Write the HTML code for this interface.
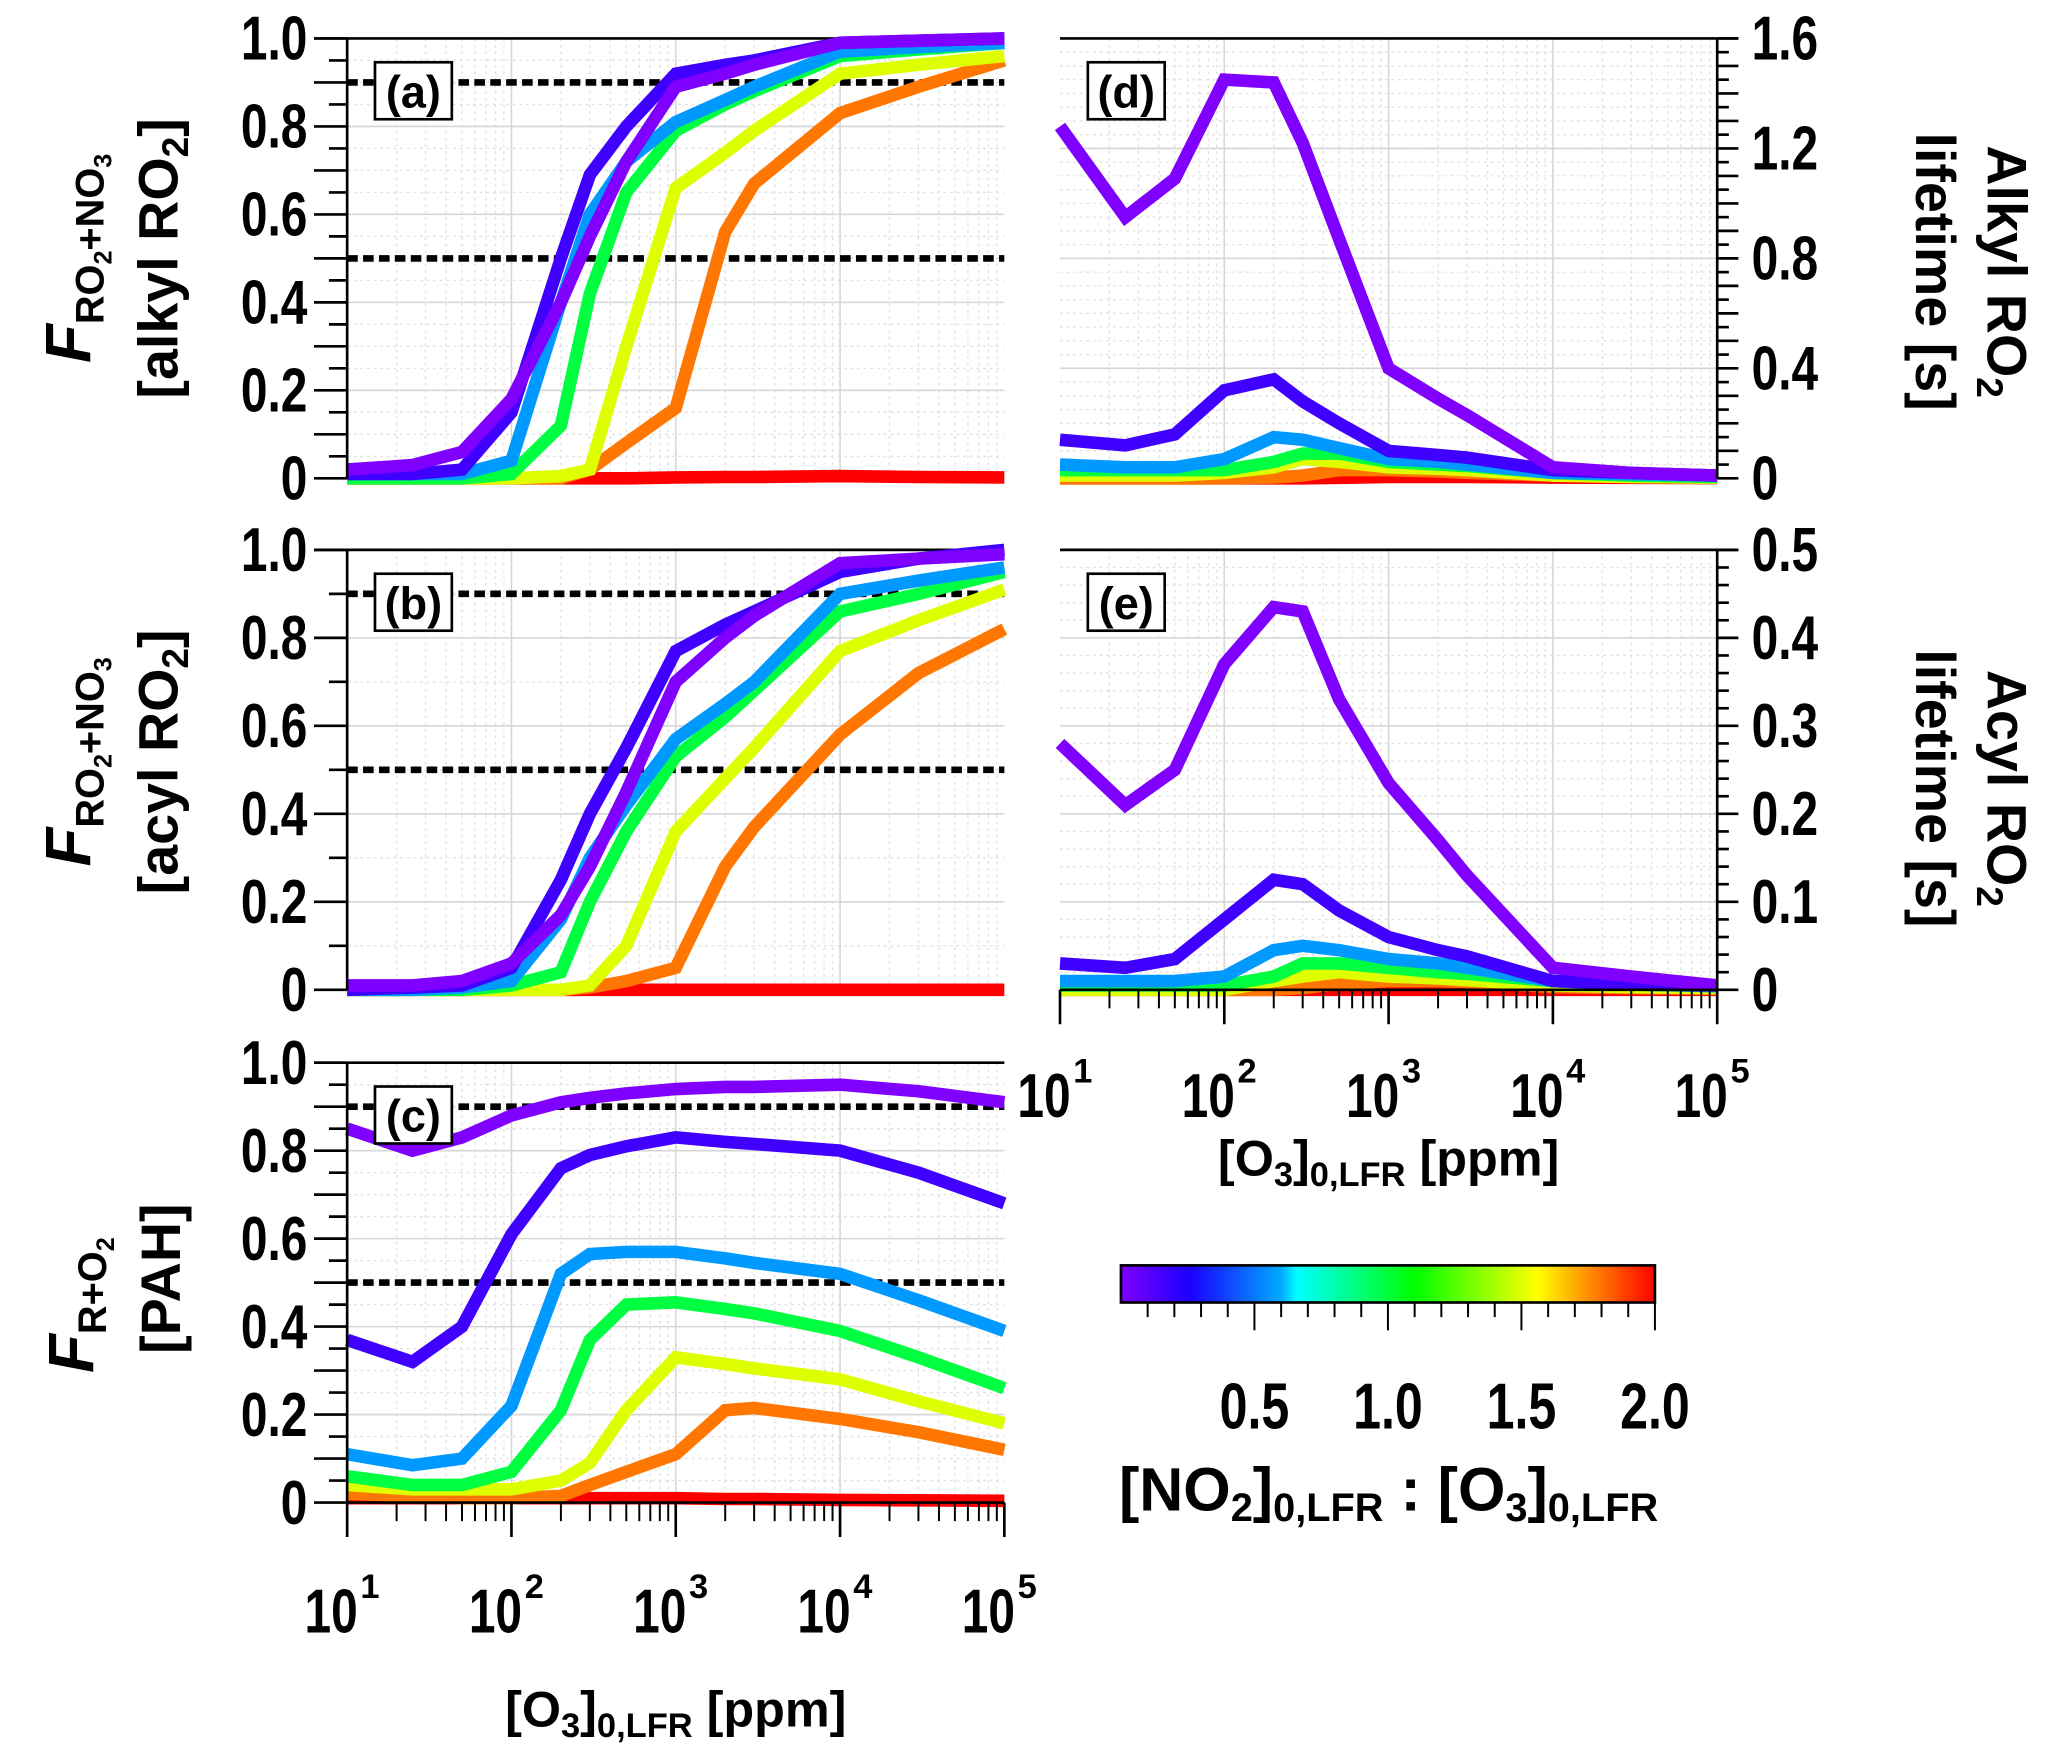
<!DOCTYPE html>
<html><head><meta charset="utf-8"><style>
html,body{margin:0;padding:0;background:#fff;}
svg{display:block;}
text{font-family:"Liberation Sans Narrow","Liberation Sans",sans-serif;font-weight:bold;fill:#000;}
</style></head><body>
<svg id="fig" xmlns="http://www.w3.org/2000/svg" width="2067" height="1753" viewBox="0 0 1560 1323" preserveAspectRatio="none">
<defs>
<linearGradient id="cbg" x1="0" x2="1" y1="0" y2="0">
<stop offset="0" stop-color="#8000ff"/><stop offset="0.13" stop-color="#1a00ff"/><stop offset="0.3" stop-color="#00aaff"/><stop offset="0.33" stop-color="#00ffff"/><stop offset="0.55" stop-color="#00ff00"/><stop offset="0.78" stop-color="#ffff00"/><stop offset="0.88" stop-color="#ff8800"/><stop offset="1" stop-color="#ff0000"/>
</linearGradient>
</defs>
<g id="root"></g>
</svg>
<script>
const xs=[10,25,50,100,200,300,500,1000,2000,3000,10000,30000,100000];
const colors=["#8000ff","#4000ff","#0099ff","#00ff40","#ddff00","#ff7700","#ff0000"];
const seriesNames=["violet","blue","sky","green","yellow","orange","red"];
const aVals=[
[0.02,0.03,0.06,0.18,0.40,0.55,0.72,0.89,0.92,0.94,0.99,0.995,1.0],
[0.01,0.01,0.02,0.15,0.50,0.69,0.80,0.92,0.94,0.95,0.99,0.995,1.0],
[0.01,0.01,0.01,0.04,0.40,0.60,0.72,0.81,0.86,0.89,0.97,0.98,0.99],
[0,0,0,0.01,0.12,0.42,0.65,0.79,0.85,0.88,0.96,0.975,0.99],
[0,0,0,0,0.005,0.02,0.30,0.66,0.74,0.79,0.92,0.94,0.96],
[0,0,0,0,0,0.02,0.08,0.16,0.56,0.67,0.83,0.89,0.95],
[0,0,0,0,0,0,0,0.002,0.003,0.003,0.005,0.003,0.002]];
const bVals=[
[0.01,0.01,0.02,0.06,0.17,0.28,0.45,0.70,0.80,0.85,0.97,0.98,0.99],
[0,0.005,0.01,0.05,0.25,0.40,0.55,0.77,0.83,0.86,0.95,0.98,1.0],
[0,0,0.005,0.02,0.16,0.30,0.42,0.57,0.65,0.70,0.90,0.93,0.96],
[0,0,0,0.01,0.04,0.20,0.36,0.53,0.62,0.68,0.86,0.90,0.95],
[0,0,0,0,0,0.01,0.10,0.36,0.48,0.55,0.77,0.84,0.91],
[0,0,0,0,0,0.005,0.02,0.05,0.28,0.37,0.58,0.72,0.82],
[0,0,0,0,0,0,0,0,0,0,0,0,0]];
const cVals=[
[0.85,0.80,0.83,0.88,0.91,0.92,0.93,0.94,0.945,0.945,0.95,0.935,0.91],
[0.37,0.32,0.40,0.61,0.76,0.79,0.81,0.83,0.82,0.815,0.80,0.75,0.68],
[0.11,0.085,0.10,0.22,0.52,0.565,0.57,0.57,0.555,0.545,0.52,0.46,0.39],
[0.06,0.04,0.04,0.07,0.21,0.37,0.45,0.455,0.44,0.43,0.39,0.33,0.26],
[0.04,0.03,0.03,0.03,0.05,0.09,0.21,0.33,0.315,0.305,0.28,0.23,0.18],
[0.02,0.015,0.01,0.01,0.015,0.04,0.07,0.11,0.21,0.215,0.19,0.16,0.12],
[0.01,0.01,0.01,0.01,0.01,0.01,0.01,0.01,0.008,0.008,0.006,0.005,0.004]];
const dVals=[
[1.28,0.95,1.09,1.45,1.44,1.22,0.87,0.40,0.29,0.23,0.04,0.02,0.01],
[0.14,0.12,0.16,0.32,0.36,0.28,0.20,0.10,0.085,0.075,0.03,0.02,0.01],
[0.05,0.04,0.04,0.07,0.15,0.14,0.11,0.07,0.06,0.05,0.02,0.015,0.01],
[0.03,0.03,0.03,0.03,0.06,0.09,0.09,0.06,0.05,0.045,0.02,0.01,0.005],
[0.01,0.01,0.01,0.02,0.04,0.07,0.06,0.04,0.035,0.03,0.01,0.005,0.003],
[0,0,0,0,0.003,0.01,0.03,0.03,0.025,0.02,0.01,0.005,0.002],
[0,0,0,0,0,0,0.002,0.005,0.005,0.005,0.003,0.002,0.001]];
const eVals=[
[0.28,0.21,0.25,0.37,0.435,0.43,0.33,0.235,0.17,0.13,0.025,0.015,0.005],
[0.03,0.025,0.035,0.08,0.125,0.12,0.09,0.06,0.045,0.038,0.01,0.007,0.005],
[0.01,0.01,0.01,0.015,0.045,0.05,0.045,0.035,0.03,0.025,0.01,0.006,0.004],
[0.005,0.005,0.005,0.005,0.015,0.03,0.03,0.025,0.02,0.018,0.01,0.006,0.004],
[0,0,0,0,0.01,0.015,0.02,0.015,0.013,0.011,0.005,0.003,0.002],
[0,0,0,0,0,0.002,0.007,0.01,0.01,0.009,0.003,0.002,0.001],
[0,0,0,0,0,0,0,0,0,0,0,0,0]];
const leftTicks=["0","0.2","0.4","0.6","0.8","1.0"];
const dTicks=["0","0.4","0.8","1.2","1.6"];
const eTicks=["0","0.1","0.2","0.3","0.4","0.5"];
const cbTicks=["0.5","1.0","1.5","2.0"];
const xExp=["1","2","3","4","5"];

const NS="http://www.w3.org/2000/svg";
const root=document.getElementById("root");
function mk(tag,attrs,parent){const e=document.createElementNS(NS,tag);for(const k in attrs)e.setAttribute(k,attrs[k]);(parent||root).appendChild(e);return e;}
function ctext(x,y,str,size,anchor,parent){
  return mk("text",{x:0,y:0,"font-size":size,"text-anchor":anchor,transform:`translate(${x},${y}) scale(0.86,1.12)`},parent);
}

function panel(p){
  const g=mk("g",{});
  
  
  const X=v=>p.x0+(Math.log10(v)-1)/4*(p.x1-p.x0);
  const Y=v=>p.y0-(v/p.ymax)*(p.y0-p.y1);
  for(let d=1;d<5;d++)for(let m=2;m<10;m++){const x=X(m*Math.pow(10,d));mk("line",{x1:x,x2:x,y1:p.y1,y2:p.y0,stroke:"#e0e0e0","stroke-width":1,"stroke-dasharray":"2,3"},g);}
  for(let i=1;i<p.nMinor;i++){const y=p.y0-i*(p.y0-p.y1)/p.nMinor;mk("line",{x1:p.x0,x2:p.x1,y1:y,y2:y,stroke:"#e0e0e0","stroke-width":1,"stroke-dasharray":"2,3"},g);}
  for(let d=2;d<5;d++){const x=X(Math.pow(10,d));mk("line",{x1:x,x2:x,y1:p.y1,y2:p.y0,stroke:"#d6d6d6","stroke-width":1.2},g);}
  for(let i=1;i<p.ticks.length;i++){const y=Y(parseFloat(p.ticks[i]));mk("line",{x1:p.x0,x2:p.x1,y1:y,y2:y,stroke:"#d6d6d6","stroke-width":1.2},g);}
  mk("line",{x1:p.side==="left"?p.x0-25:p.x0,x2:p.side==="left"?p.x1:p.x1+p.tickLen,y1:p.y1,y2:p.y1,stroke:"#000","stroke-width":2},g);
  if(p.refs)p.refs.forEach(r=>{const l=mk("line",{x1:p.x0,x2:p.x1,y1:Y(r),y2:Y(r),stroke:"#000","stroke-width":5,"stroke-dasharray":"8,4"},g);
    
    });
  for(let s=p.vals.length-1;s>=0;s--){
    const pts=xs.map((x,i)=>X(x).toFixed(1)+","+Y(p.vals[s][i]).toFixed(1)).join(" ");
    const pl=mk("polyline",{points:pts,fill:"none",stroke:colors[s],"stroke-width":9.5,"stroke-linejoin":"miter"},g);
    
    
  }
  const ax=p.side==="left"?p.x0:p.x1, dir=p.side==="left"?-1:1;
  mk("line",{x1:ax,x2:ax,y1:p.y1,y2:p.y0,stroke:"#000","stroke-width":2},g);
  for(let i=0;i<=p.nMinor;i++){const y=p.y0-i*(p.y0-p.y1)/p.nMinor;const L=(i%p.majorEvery===0)?p.tickLen:p.tickLen*0.55;
    mk("line",{x1:ax,x2:ax+dir*L,y1:y,y2:y,stroke:"#000","stroke-width":2},g);}
  p.ticks.forEach(t=>{const y=Y(parseFloat(t));
    const tx=ctext(p.side==="left"?ax-30:ax+26,y+16,t,42,p.side==="left"?"end":"start",g);
    tx.textContent=t;
    
    });
  if(p.bottom){
    mk("line",{x1:p.x0,x2:p.x1,y1:p.y0,y2:p.y0,stroke:"#000","stroke-width":2},g);
    for(let d=1;d<=5;d++){const x=X(Math.pow(10,d));mk("line",{x1:x,x2:x,y1:p.y0,y2:p.y0+26,stroke:"#000","stroke-width":2},g);
      if(d<5)for(let m=2;m<10;m++){const xm=X(m*Math.pow(10,d));mk("line",{x1:xm,x2:xm,y1:p.y0,y2:p.y0+14,stroke:"#000","stroke-width":1.5},g);}}
    xExp.forEach((e,i)=>{const x=X(Math.pow(10,i+1));
      const t=ctext(x+8,p.y0+p.xlabOff,"10",42,"end",g);t.textContent="10";
      
      
      const s=mk("text",{x:x+10,y:p.y0+p.xlabOff-26,"font-size":26},g);s.textContent=e;});
  }
  const bx=mk("rect",{x:p.x0+21,y:p.y1+18,width:58,height:43,fill:"#fff",stroke:"#000","stroke-width":2},g);
  
  
  const lt=mk("text",{x:p.x0+50,y:p.y1+52,"font-size":34,"text-anchor":"middle"},g);lt.textContent=p.label;
  return g;
}
panel({name:"panel-a",x0:262,x1:758,y0:361,y1:29,ymax:1,nMinor:20,majorEvery:2,tickLen:25,ticks:leftTicks,side:"left",vals:aVals,refs:[0.9,0.5],label:"(a)"});
panel({name:"panel-b",x0:262,x1:758,y0:747,y1:415,ymax:1,nMinor:10,majorEvery:2,tickLen:25,ticks:leftTicks,side:"left",vals:bVals,refs:[0.9,0.5],label:"(b)"});
panel({name:"panel-c",x0:262,x1:758,y0:1134,y1:802,ymax:1,nMinor:20,majorEvery:2,tickLen:25,ticks:leftTicks,side:"left",vals:cVals,refs:[0.9,0.5],label:"(c)",bottom:true,xlabOff:98});
panel({name:"panel-d",x0:800,x1:1296,y0:361,y1:29,ymax:1.6,nMinor:32,majorEvery:2,tickLen:16,ticks:dTicks,side:"right",vals:dVals,label:"(d)"});
panel({name:"panel-e",x0:800,x1:1296,y0:747,y1:415,ymax:0.5,nMinor:25,majorEvery:5,tickLen:16,ticks:eTicks,side:"right",vals:eVals,label:"(e)",bottom:true,xlabOff:96});

function txt(html,attrs,name){const t=mk("text",attrs);t.innerHTML=html;return t;}
txt('[O<tspan font-size="26" dy="8">3</tspan><tspan dy="-8">]</tspan><tspan font-size="26" dy="8">0,LFR</tspan><tspan dy="-8"> [ppm]</tspan>',{x:510,y:1303,"font-size":38,"text-anchor":"middle"},"x-axis-title-left");
txt('[O<tspan font-size="26" dy="8">3</tspan><tspan dy="-8">]</tspan><tspan font-size="26" dy="8">0,LFR</tspan><tspan dy="-8"> [ppm]</tspan>',{x:1048,y:887,"font-size":38,"text-anchor":"middle"},"x-axis-title-right");
const F1='<tspan font-style="italic" font-size="48">F</tspan><tspan font-size="30" dy="10">RO</tspan><tspan font-size="19" dy="6">2</tspan><tspan font-size="30" dy="-6">+NO</tspan><tspan font-size="19" dy="6">3</tspan>';
txt(F1,{x:0,y:0,"font-size":40,"text-anchor":"middle",transform:"translate(68,195) rotate(-90)"},"y-title-a-line1");
txt('[alkyl RO<tspan font-size="28" dy="8">2</tspan><tspan dy="-8">]</tspan>',{x:0,y:0,"font-size":42,"text-anchor":"middle",transform:"translate(134,195) rotate(-90)"},"y-title-a-line2");
txt(F1,{x:0,y:0,"font-size":40,"text-anchor":"middle",transform:"translate(68,575) rotate(-90)"},"y-title-b-line1");
txt('[acyl RO<tspan font-size="28" dy="8">2</tspan><tspan dy="-8">]</tspan>',{x:0,y:0,"font-size":42,"text-anchor":"middle",transform:"translate(134,575) rotate(-90)"},"y-title-b-line2");
txt('<tspan font-style="italic" font-size="48">F</tspan><tspan font-size="30" dy="10">R+O</tspan><tspan font-size="19" dy="6">2</tspan>',{x:0,y:0,"font-size":40,"text-anchor":"middle",transform:"translate(70,985) rotate(-90)"},"y-title-c-line1");
txt('[PAH]',{x:0,y:0,"font-size":42,"text-anchor":"middle",transform:"translate(136,965) rotate(-90)"},"y-title-c-line2");
txt('Alkyl RO<tspan font-size="28" dy="8">2</tspan>',{x:0,y:0,"font-size":42,"text-anchor":"middle",transform:"translate(1500,205) rotate(90)"},"y-title-d-line1");
txt('lifetime [s]',{x:0,y:0,"font-size":42,"text-anchor":"middle",transform:"translate(1446,205) rotate(90)"},"y-title-d-line2");
txt('Acyl RO<tspan font-size="28" dy="8">2</tspan>',{x:0,y:0,"font-size":42,"text-anchor":"middle",transform:"translate(1500,595) rotate(90)"},"y-title-e-line1");
txt('lifetime [s]',{x:0,y:0,"font-size":42,"text-anchor":"middle",transform:"translate(1446,595) rotate(90)"},"y-title-e-line2");

const cb=mk("g",{});


const cx0=846,cx1=1249;
mk("rect",{x:cx0,y:955,width:cx1-cx0,height:28,fill:"url(#cbg)",stroke:"#000","stroke-width":2},cb);
for(let i=1;i<=20;i++){const x=cx0+i/20*(cx1-cx0);mk("line",{x1:x,x2:x,y1:983,y2:i%5===0?1004:994,stroke:"#000","stroke-width":1.5},cb);}
cbTicks.forEach(t=>{const x=cx0+parseFloat(t)/2*(cx1-cx0);const e=ctext(x,1078,t,44,"middle",cb);e.textContent=t;
  
  });
txt('[NO<tspan font-size="30" dy="8">2</tspan><tspan dy="-8">]</tspan><tspan font-size="30" dy="8">0,LFR</tspan><tspan dy="-8"> : [O</tspan><tspan font-size="30" dy="8">3</tspan><tspan dy="-8">]</tspan><tspan font-size="30" dy="8">0,LFR</tspan>',{x:1048,y:1140,"font-size":46,"text-anchor":"middle"},"colorbar-title");
</script>
</body></html>
